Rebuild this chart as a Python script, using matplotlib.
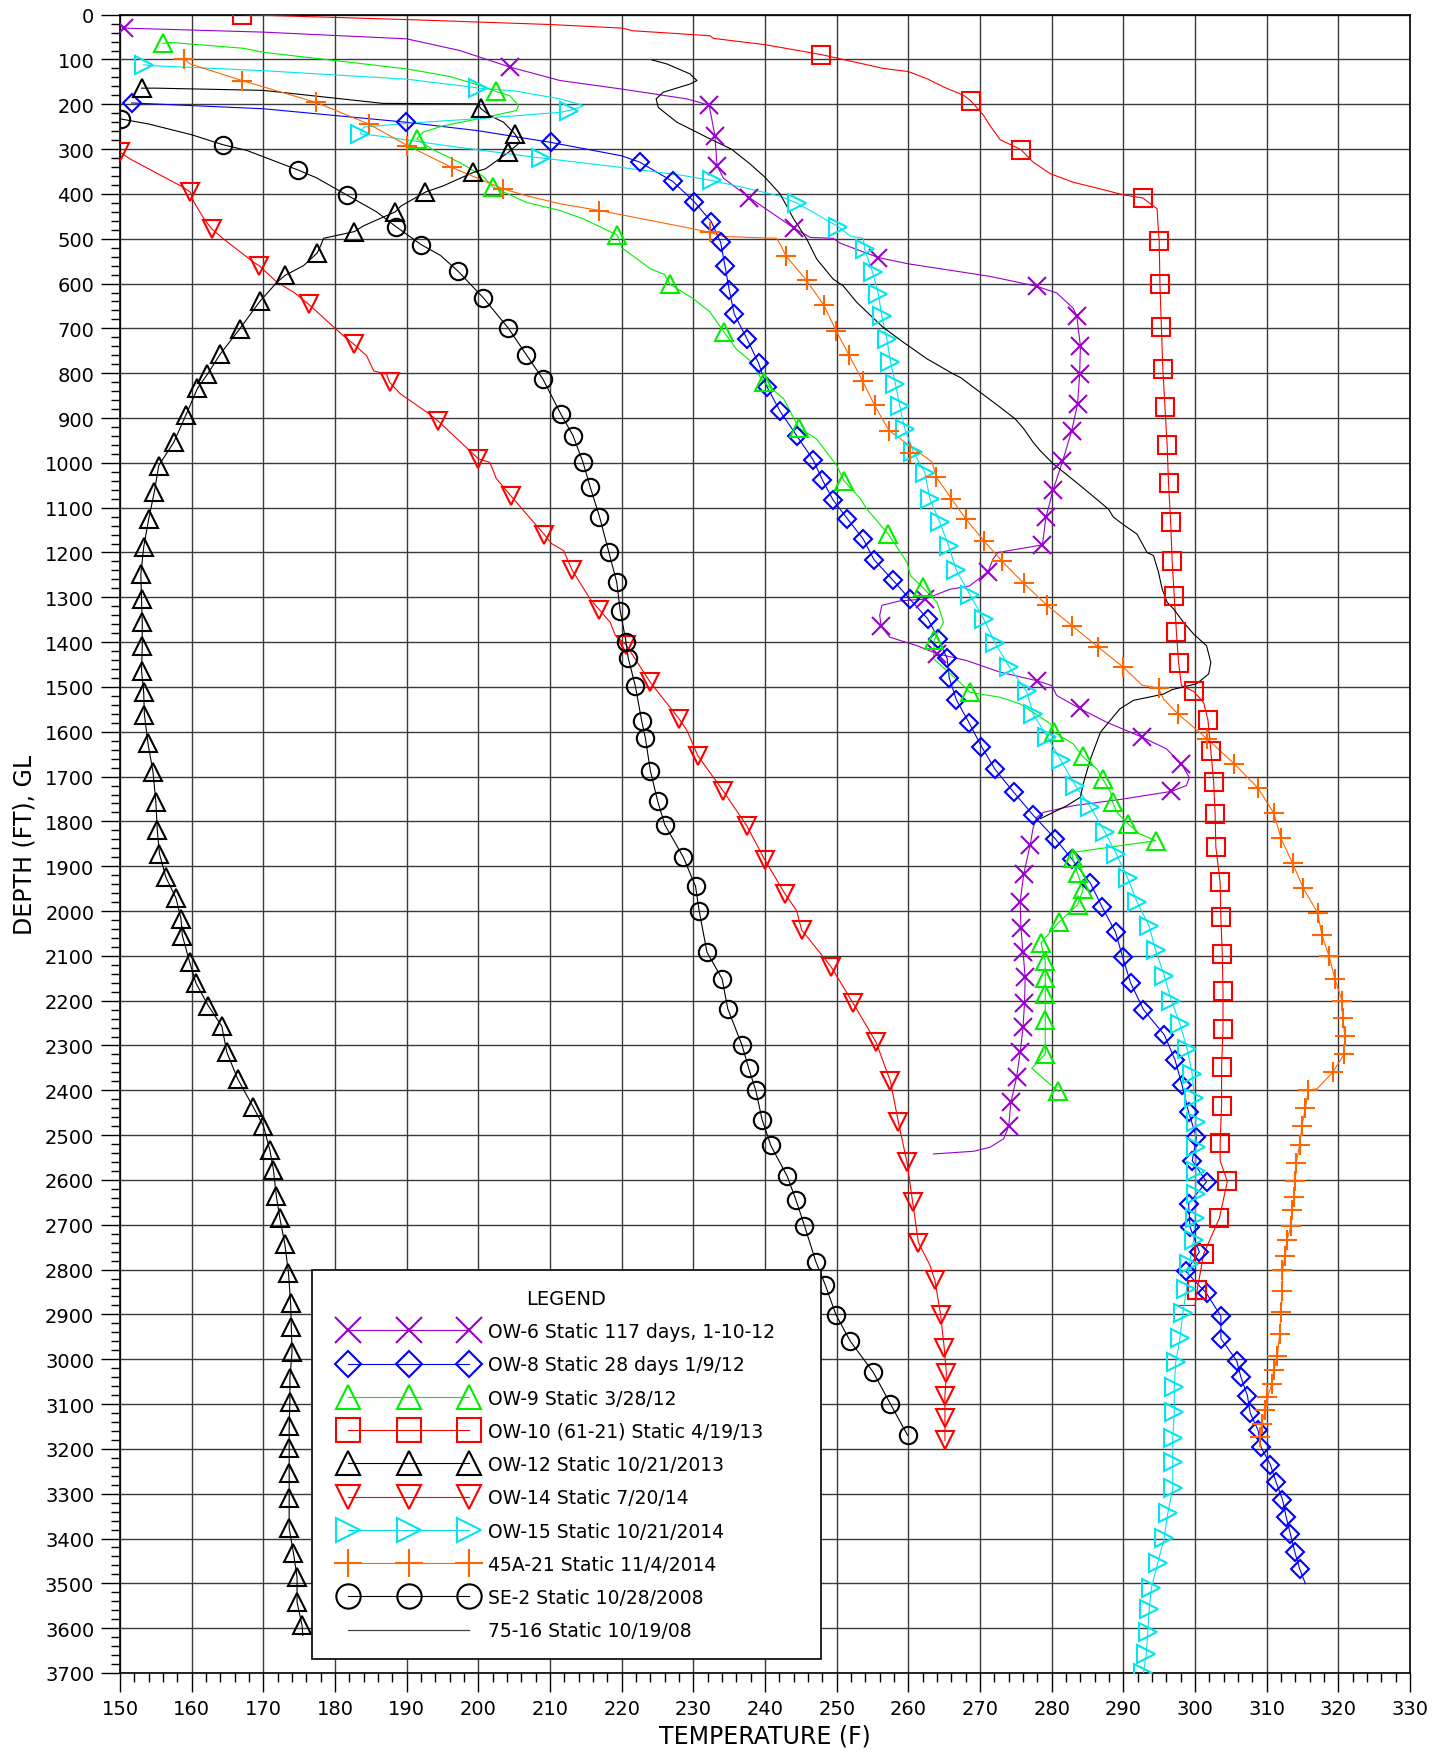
import matplotlib
matplotlib.use("Agg")
import matplotlib.pyplot as plt
from matplotlib.lines import Line2D
from matplotlib.legend_handler import HandlerLine2D
from matplotlib.ticker import MultipleLocator

# ---------------- survey data: temperature (F) vs depth (ft) ----------------
# OW-6
ow6_mt = [150.5, 204.4, 232.2, 233.0, 233.3, 237.8, 244.1, 255.8, 277.9, 283.5, 284.0, 283.9, 283.6,
          282.8, 281.5, 280.2, 279.2, 278.7, 271.1, 262.3, 256.2, 264.0, 277.9, 283.9, 292.6, 298.1,
          296.7, 277.0, 276.1, 275.6, 275.7, 276.0, 276.3, 276.2, 276.0, 275.6, 275.1, 274.3, 274.0]
ow6_md = [30, 117, 202, 270, 337, 408, 477, 542, 606, 673, 739, 802, 869,
          928, 997, 1060, 1121, 1183, 1243, 1304, 1365, 1426, 1486, 1548, 1612, 1672,
          1733, 1852, 1917, 1979, 2038, 2092, 2148, 2206, 2259, 2315, 2371, 2427, 2480]
ow6_lt = [150.5, 170, 190, 197.4, 204.4, 211.4, 220, 229.1, 232.2, 233.0, 233.3, 234.2, 237.8, 244.1,
          246.3, 249.5, 250.5, 255.8, 260, 271.4, 277.9, 280.7, 283, 283.5, 284.0, 283.9, 283.6, 282.8,
          281.5, 280.2, 279.2, 278.7, 272.5, 271.8, 271.1, 268.5, 265.8, 262.3, 258.8, 256.3, 256.0,
          256.2, 257.4, 261.2, 264.0, 268.1, 272.8, 277.9, 280, 280.7, 283.9, 287.7, 292.6, 296, 298.1,
          299.2, 298.8, 296.7, 290, 283, 278.8, 277.9, 277.4, 277.0, 276.1, 275.6, 275.7, 276.0, 276.3,
          276.2, 276.0, 275.6, 275.1, 274.3, 274.0, 273.3, 271.4, 269.1, 263.5]
ow6_ld = [30, 39, 54, 80, 117, 147, 166, 188, 202, 270, 337, 365, 408, 477,
          497, 499, 510, 542, 556, 584, 606, 621, 655, 673, 739, 802, 869, 928,
          997, 1060, 1121, 1183, 1200, 1215, 1243, 1275, 1282, 1304, 1308, 1318, 1340,
          1365, 1389, 1408, 1426, 1441, 1467, 1486, 1497, 1519, 1548, 1579, 1612, 1638, 1672,
          1702, 1720, 1733, 1750, 1765, 1780, 1791, 1815, 1852, 1917, 1979, 2038, 2092, 2148,
          2206, 2259, 2315, 2371, 2427, 2480, 2508, 2527, 2536, 2542]

# OW-8
ow8_mt = [151.6, 189.9, 210.1, 222.5, 227.1, 230.1, 232.5, 233.8, 234.4, 235.0, 235.7, 237.5, 239.1,
          240.3, 242.1, 244.4, 246.7, 248.0, 249.5, 251.5, 253.7, 255.2, 257.8, 260.2, 262.7, 264.2,
          265.4, 265.7, 266.7, 268.5, 270.2, 272.1, 274.7, 277.4, 280.5, 282.8, 285.4, 287.0, 288.9,
          289.9, 291.0, 292.8, 295.7, 297.2, 298.2, 299.1, 300.2, 299.6, 301.6, 299.1, 299.3, 300.6,
          298.7, 301.6, 303.6, 303.6, 305.8, 306.4, 307.3, 307.7, 308.8, 309.2, 310.5, 311.3, 312.2,
          312.7, 313.3, 313.9, 314.6]
ow8_md = [197, 240, 285, 329, 372, 417, 462, 508, 560, 614, 668, 724, 778,
          831, 885, 939, 993, 1038, 1083, 1125, 1170, 1216, 1261, 1304, 1348, 1393,
          1436, 1480, 1529, 1581, 1633, 1684, 1735, 1786, 1839, 1884, 1938, 1990, 2047,
          2103, 2160, 2220, 2276, 2332, 2389, 2449, 2505, 2557, 2604, 2653, 2705, 2761,
          2804, 2853, 2904, 2954, 3003, 3040, 3081, 3120, 3159, 3196, 3235, 3274, 3313,
          3351, 3390, 3429, 3468]
ow8_lt = [151.6, 170, 189.9, 200, 210.1, 220] + ow8_mt[3:] + [315.4]
ow8_ld = [197, 210, 240, 259, 285, 315] + ow8_md[3:] + [3501]

# OW-9
ow9_mt = [156.0, 202.4, 191.4, 202.1, 219.4, 226.7, 234.3, 239.8, 244.7, 251.0, 257.2, 262.0, 263.6,
          268.6, 280.3, 284.3, 287.1, 288.5, 290.7, 294.5, 282.9, 283.6, 284.4, 283.6, 281.0, 278.5,
          279.1, 279.1, 279.1, 279.1, 279.1, 280.9]
ow9_md = [64, 171, 277, 385, 492, 601, 709, 820, 922, 1040, 1159, 1278, 1395,
          1512, 1601, 1655, 1705, 1757, 1806, 1843, 1881, 1916, 1951, 1986, 2025, 2071,
          2112, 2150, 2186, 2244, 2319, 2402]
ow9_lt = [156.0, 157, 167.2, 170, 190, 196, 200, 202.4, 204.4, 205.6, 205.3, 199.8, 195.1, 192.3, 191.4,
          193.5, 197.4, 200.6, 202.1, 206.7, 211.4, 214.7, 219.4, 220, 224, 226, 226.7, 230, 232.3,
          234.3, 236, 237.9, 239.8, 242.6, 244.7, 247.2, 250, 251.0, 253.3, 254.2, 257.2, 259.8, 260.3,
          262.0, 264, 264.9, 263.6, 263.5, 267.2, 268.6, 272.8, 275.6, 279.8, 280.3, 283, 284.3, 286.3,
          287.1, 288.2, 288.5, 289.1, 290.7, 292.3, 294.5, 283, 282.9, 283.6, 284.4, 283.6, 281.0,
          278.5, 279.1, 279.1, 279.1, 279.1, 279.1, 277.2, 280.9]
ow9_ld = [64, 62, 75, 84, 121, 138, 157, 171, 181, 203, 214, 233, 248, 262, 277,
          300, 330, 360, 385, 419, 437, 456, 492, 520, 567, 580, 601, 634, 663,
          709, 746, 772, 820, 857, 922, 947, 1006, 1040, 1080, 1103, 1159, 1222, 1252,
          1278, 1311, 1356, 1395, 1437, 1490, 1512, 1523, 1538, 1582, 1601, 1627, 1655, 1683,
          1705, 1735, 1757, 1780, 1806, 1828, 1843, 1869, 1881, 1916, 1951, 1986, 2025,
          2071, 2112, 2150, 2186, 2244, 2319, 2351, 2402]

# OW-10 (61-21)
ow10_mt = [167.0, 247.8, 268.7, 275.7, 292.7, 295.0, 295.1, 295.3, 295.5, 295.8, 296.1, 296.3, 296.6,
           296.8, 297.1, 297.4, 297.7, 299.8, 301.8, 302.2, 302.6, 302.8, 302.9, 303.5, 303.6, 303.8,
           303.9, 303.9, 303.7, 303.7, 303.5, 304.5, 303.4, 301.2, 300.3]
ow10_md = [0, 89, 192, 301, 409, 506, 602, 696, 790, 876, 960, 1046, 1133,
           1218, 1298, 1378, 1446, 1510, 1574, 1642, 1713, 1783, 1857, 1936, 2014, 2096,
           2179, 2263, 2348, 2434, 2518, 2603, 2685, 2765, 2845]
ow10_lt = [167.0, 190, 210, 220, 221.6, 232.3, 232.8, 240, 247.8, 256.5, 260, 262.6, 265, 267.7, 268.7,
           270.5, 271.4, 272.8, 275.7, 277.4, 279.8, 283, 286.3, 290, 292.7, 294.7, 294.9] \
    + ow10_mt[5:17] + [298.1, 299.8, 301.2] + ow10_mt[18:31] + [303.5, 304.5, 303.4, 301.2, 300.3, 300.0, 297.0]
ow10_ld = [0, 11, 22, 30, 36, 47, 53, 67, 89, 120, 127, 143, 162, 180, 192,
           225, 248, 279, 301, 329, 355, 374, 387, 402, 409, 433, 486] \
    + ow10_md[5:17] + [1497, 1510, 1535] + ow10_md[18:31] + [2557, 2603, 2685, 2765, 2845, 2880, 2880]

# OW-12
ow12_mt = [153.0, 200.3, 205.1, 204.2, 199.3, 192.6, 188.4, 182.7, 177.5, 173.0, 169.5, 166.7, 164.0,
           162.2, 160.8, 159.2, 157.5, 155.4, 154.8, 154.0, 153.3, 152.9, 153.0, 153.1, 153.1, 153.0,
           153.3, 153.4, 153.9, 154.6, 155.0, 155.2, 155.5, 156.4, 157.8, 158.5, 158.7, 159.7, 160.6,
           162.3, 164.2, 164.9, 166.4, 168.6, 170.0, 170.9, 171.4, 171.8, 172.3, 173.0, 173.5, 173.8,
           173.9, 174.0, 173.7, 173.7, 173.6, 173.6, 173.6, 173.6, 173.6, 174.2, 174.7, 174.7, 175.4]
ow12_md = [164, 209, 266, 307, 352, 396, 440, 484, 532, 582, 640, 701, 757,
           802, 834, 893, 954, 1006, 1064, 1125, 1188, 1249, 1304, 1356, 1409, 1464,
           1512, 1562, 1626, 1690, 1757, 1820, 1872, 1925, 1971, 2017, 2055, 2113, 2161,
           2211, 2257, 2315, 2374, 2438, 2479, 2533, 2577, 2635, 2685, 2744, 2807, 2874,
           2928, 2984, 3042, 3096, 3148, 3198, 3254, 3310, 3377, 3433, 3486, 3542, 3594]
ow12_lt = [153.0, 155, 170, 186.7, 200, 200.3, 201.6, 203.5, 205.1, 205.8, 204.2, 201, 199.3, 195.1,
           192.6, 189.2, 188.4, 184, 182.7, 178.4, 178, 177.5, 175.6, 173.0, 171.9] + ow12_mt[10:] + [175.5]
ow12_ld = [164, 164, 169, 198, 199, 209, 225, 240, 266, 285, 307, 344, 352, 382,
           396, 427, 440, 471, 484, 499, 515, 532, 560, 582, 597] + ow12_md[10:] + [3616]

# OW-14
ow14_mt = [150.0, 159.8, 162.8, 169.4, 176.3, 182.6, 187.6, 194.4, 200.0, 204.6, 209.2, 213.1, 216.9,
           220.6, 224.0, 228.0, 230.6, 234.2, 237.5, 240.0, 242.8, 245.1, 249.2, 252.3, 255.5, 257.5,
           258.6, 259.8, 260.6, 261.4, 263.7, 264.5, 265.0, 265.3, 265.1, 265.1, 265.1]
ow14_md = [307, 396, 478, 560, 646, 735, 820, 907, 991, 1075, 1160, 1240, 1328,
           1406, 1490, 1571, 1653, 1733, 1811, 1887, 1962, 2042, 2124, 2206, 2293, 2380,
           2471, 2560, 2650, 2740, 2824, 2901, 2975, 3031, 3081, 3131, 3181]
ow14_lt = [150.0, 151.4, 158.8, 159.8, 160.3, 161.7, 162.8, 164.4, 168.6, 169.4, 171.9, 174.2, 176.3,
           181.2, 182.6, 184.4, 185.4, 187.2, 187.6, 189.1, 192.8, 194.4, 200.0, 201.6, 202.5, 204.6,
           209.2, 210.2, 211.9, 213.1, 215.6, 216.9, 218.4, 219.1, 220.6, 224.0, 228.0, 229.1, 230.6,
           234.2, 237.5, 240.0, 242.8, 244.4, 245.1, 249.2, 252.3, 255.5, 257.5, 258.6, 259.8, 260.6,
           261.4, 263.0, 263.7, 264.5, 265.0, 265.3, 265.1, 265.1, 265.1]
ow14_ld = [307, 322, 385, 396, 418, 455, 478, 500, 552, 560, 597, 619, 646,
           717, 735, 761, 795, 802, 820, 846, 887, 907, 991, 999, 1035, 1075,
           1160, 1180, 1196, 1240, 1304, 1328, 1356, 1385, 1406, 1490, 1571, 1597, 1653,
           1733, 1811, 1887, 1962, 1999, 2042, 2124, 2206, 2293, 2380, 2471, 2560, 2650,
           2740, 2790, 2824, 2901, 2975, 3031, 3081, 3131, 3181]

# OW-15
ow15_mt = [153.3, 200.0, 212.6, 183.5, 208.8, 232.6, 244.4, 250.2, 253.9, 255.0, 255.8, 256.3, 257.0,
           257.5, 258.2, 258.8, 259.5, 260.7, 262.3, 263.0, 264.4, 265.6, 266.7, 268.6, 270.5, 272.1,
           274.1, 276.5, 277.4, 279.4, 281.3, 283.3, 285.4, 287.4, 289.0, 290.6, 291.9, 293.6, 294.5,
           295.7, 296.7, 297.9, 298.9, 299.6, 299.9, 300.1, 300.1, 300.1, 300.1, 300.0, 299.8, 299.2,
           298.8, 298.3, 297.9, 297.3, 297.1, 297.1, 296.9, 296.9, 296.9, 296.2, 295.7, 294.8, 293.9,
           293.6, 293.4, 293.2, 292.8]
ow15_md = [112, 164, 214, 266, 320, 370, 420, 473, 523, 575, 623, 673, 724,
           774, 824, 874, 924, 976, 1022, 1080, 1133, 1185, 1240, 1295, 1348, 1402,
           1456, 1510, 1560, 1612, 1664, 1720, 1768, 1823, 1872, 1927, 1979, 2034, 2088,
           2144, 2200, 2252, 2308, 2363, 2418, 2471, 2527, 2579, 2631, 2685, 2735, 2787,
           2844, 2897, 2952, 3007, 3062, 3118, 3175, 3230, 3287, 3343, 3398, 3454, 3511,
           3558, 3609, 3657, 3700]
ow15_lt = [153.3, 154.7, 170, 190, 199.3, 200.0, 205, 211.4, 214.7, 213.5, 212.6, 211.4, 200, 190.5,
           184, 183.5, 185.8, 196.3, 208.8, 210, 220, 228.6, 232.6, 237.9, 242.1, 244.4, 250.2, 251.9,
           253.7] + ow15_mt[8:]
ow15_ld = [112, 114, 125, 144, 162, 164, 170, 188, 203, 210, 214, 218, 232, 242,
           251, 266, 270, 294, 320, 322, 341, 359, 370, 389, 405, 420, 473, 494,
           499] + ow15_md[8:]

# 45A-21
a45_mt = [158.9, 167.0, 177.4, 184.7, 190.1, 196.3, 203.5, 216.9, 232.3, 242.9, 245.8, 248.2, 249.9,
          251.7, 253.6, 255.3, 257.3, 260.2, 263.9, 266.0, 268.0, 270.6, 273.1, 276.1, 279.3, 282.8,
          286.4, 290.0, 294.9, 297.6, 301.7, 305.5, 308.8, 311.0, 312.0, 313.6, 315.1, 317.1, 317.7,
          318.7, 319.5, 320.5, 320.6, 320.9, 320.8, 319.2, 315.8, 315.4, 314.9, 314.6, 314.1, 314.0,
          313.8, 313.5, 313.4, 312.8, 312.6, 312.2, 312.2, 312.0, 311.8, 311.5, 311.0, 310.7, 310.1,
          309.8, 309.3, 309.1]
a45_md = [99, 147, 196, 244, 292, 341, 389, 437, 486, 538, 593, 648, 705,
          759, 817, 872, 928, 978, 1032, 1080, 1125, 1175, 1220, 1269, 1317, 1363,
          1410, 1456, 1503, 1560, 1616, 1672, 1726, 1782, 1838, 1893, 1949, 2004, 2053,
          2101, 2151, 2200, 2239, 2279, 2319, 2360, 2399, 2440, 2480, 2521, 2563, 2603,
          2637, 2668, 2702, 2735, 2769, 2800, 2848, 2895, 2943, 2992, 3024, 3055, 3085,
          3114, 3144, 3174]
a45_lt = [158.9, 159.8] + a45_mt[1:7] + [206.7, 211.4, 216.9, 230.0, 232.3, 234.2, 241.6, 242.2] \
    + a45_mt[9:17] + [263.3] + a45_mt[18:28] + [292.6, 294.9, 295.6] + a45_mt[29:46] + [317.0] \
    + a45_mt[46:] + [309.1]
a45_ld = [99, 110] + a45_md[1:7] + [404, 422, 437, 478, 486, 495, 499, 515] \
    + a45_md[9:17] + [998] + a45_md[18:28] + [1496, 1503, 1527] + a45_md[29:46] + [2397] \
    + a45_md[46:] + [3190]

# SE-2
se2_mt = [150.2, 164.3, 174.9, 181.6, 188.5, 192.0, 197.2, 200.7, 204.2, 206.7, 209.0, 211.5, 213.2,
          214.6, 215.6, 216.9, 218.2, 219.3, 219.8, 220.6, 220.9, 221.9, 222.8, 223.3, 224.0, 225.0,
          226.0, 228.6, 230.3, 230.8, 231.9, 234.0, 234.8, 236.8, 237.7, 238.7, 239.6, 240.8, 243.1,
          244.3, 245.5, 247.1, 248.4, 249.9, 251.9, 255.1, 257.5, 259.9]
se2_md = [233, 290, 347, 402, 473, 513, 573, 632, 700, 759, 813, 891, 939,
          999, 1054, 1120, 1199, 1266, 1331, 1399, 1435, 1498, 1577, 1614, 1687, 1754,
          1807, 1880, 1945, 1999, 2092, 2151, 2218, 2300, 2350, 2400, 2466, 2523, 2592,
          2644, 2702, 2783, 2834, 2901, 2960, 3029, 3100, 3170]
se2_lt = [150.2, 154.0, 160.0, 164.3, 167.7, 174.9, 177.4, 181.6, 185.8, 188.5, 192.0, 194.7] + se2_mt[6:]
se2_ld = [233, 244, 268, 290, 303, 347, 364, 402, 440, 473, 513, 537] + se2_md[6:]

# 75-16 (trace only)
w7516_t = [224.2, 226.3, 229.5, 230.5, 229.5, 225.8, 224.8, 225.1, 227.7, 232.3, 235.3, 237.9, 240.0,
           242.1, 244.0, 245.8, 247.2, 249.5, 250.9, 252.8, 256.5, 259.3, 262.6, 266.3, 267.3, 272.8,
           274.9, 276.1, 277.4, 278.4, 280.2, 284.0, 287.9, 288.6, 290.0, 291.9, 293.3, 294.2, 294.9,
           295.4, 296.1, 297.0, 298.4, 299.8, 301.6, 302.2, 301.9, 300.2, 296.8, 295.6, 291.4, 289.5,
           286.8, 285.4, 284.4, 284.0, 282.1, 278.4]
w7516_d = [101, 110, 132, 147, 155, 173, 188, 207, 240, 277, 300, 333, 363,
           400, 456, 500, 545, 590, 605, 642, 698, 731, 768, 802, 810, 876,
           902, 924, 954, 973, 1002, 1051, 1103, 1121, 1138, 1159, 1200, 1207, 1244,
           1281, 1311, 1326, 1356, 1382, 1408, 1445, 1471, 1493, 1506, 1516, 1530, 1549,
           1601, 1661, 1716, 1746, 1765, 1794]

labels = ["OW-6 Static 117 days, 1-10-12", "OW-8 Static 28 days 1/9/12", "OW-9 Static 3/28/12",
          "OW-10 (61-21) Static 4/19/13", "OW-12 Static 10/21/2013", "OW-14 Static 7/20/14",
          "OW-15 Static 10/21/2014", "45A-21 Static 11/4/2014", "SE-2 Static 10/28/2008",
          "75-16 Static 10/19/08"]

series = [
    (ow6_lt, ow6_ld, ow6_mt, ow6_md, "#9900cc", "x", 13),
    (ow8_lt, ow8_ld, ow8_mt, ow8_md, "#0000ff", "D", 9.2),
    (ow9_lt, ow9_ld, ow9_mt, ow9_md, "#00ee00", "^", 12.5),
    (ow10_lt, ow10_ld, ow10_mt, ow10_md, "#ff0000", "s", 12.5),
    (ow12_lt, ow12_ld, ow12_mt, ow12_md, "#000000", "^", 12.5),
    (ow14_lt, ow14_ld, ow14_mt, ow14_md, "#ff0000", "v", 12.5),
    (ow15_lt, ow15_ld, ow15_mt, ow15_md, "#00e5ee", ">", 12.5),
    (a45_lt, a45_ld, a45_mt, a45_md, "#ff6600", "+", 14),
    (se2_lt, se2_ld, se2_mt, se2_md, "#000000", "o", 12.5),
    (w7516_t, w7516_d, None, None, "#000000", None, 0),
]

fig = plt.figure(figsize=(14.48, 17.58), dpi=100)
ax = fig.add_axes([0.0829, 0.0478, 0.8909, 0.9433])

handles = []
for lt, ld, mt, md, col, mk, ms in series:
    ax.plot(lt, ld, color=col, lw=0.8, zorder=3)
    if mk is not None:
        ax.plot(mt, md, ls="none", marker=mk, ms=ms, mfc="none", mec=col, mew=1.5, zorder=4)
        handles.append(Line2D([], [], color=col, lw=0.8, marker=mk, ms=ms, mfc="none", mec=col, mew=1.5))
    else:
        handles.append(Line2D([], [], color="#444444", lw=0.9))

ax.set_xlim(150, 330)
ax.set_ylim(3700, 0)
ax.xaxis.set_major_locator(MultipleLocator(10))
ax.xaxis.set_minor_locator(MultipleLocator(2))
ax.yaxis.set_major_locator(MultipleLocator(100))
ax.yaxis.set_minor_locator(MultipleLocator(20))
ax.tick_params(which="major", length=13.5, width=1.0, direction="out", labelsize=14, pad=5)
ax.tick_params(which="minor", length=6.5, width=1.0, direction="out")
ax.grid(which="major", color="#3a3a3a", lw=1.0, zorder=1)
ax.set_axisbelow(True)
for sp in ax.spines.values():
    sp.set_linewidth(1.2)

ax.set_xlabel("TEMPERATURE (F)", fontsize=17, labelpad=4)
ax.set_ylabel("DEPTH (FT), GL", fontsize=17, labelpad=6)

# legend samples: three markers joined by the line, markers inset from the handle ends
line_handler = HandlerLine2D(marker_pad=0.94)
leg = ax.legend(handles, labels, loc="lower left",
                bbox_to_anchor=(0.1488, 0.0084, 0.3946, 0.2353), mode="expand",
                numpoints=3, handlelength=8.3, handletextpad=0.1, labelspacing=0.76,
                borderpad=1.0, borderaxespad=0, fontsize=13.5, title="LEGEND",
                title_fontsize=14, frameon=True, fancybox=False, edgecolor="black",
                framealpha=1, markerscale=1.4,
                handler_map={Line2D: line_handler})
leg.get_frame().set_linewidth(1.2)
leg.set_zorder(10)

fig.savefig("out.png", dpi=100, facecolor="white")
